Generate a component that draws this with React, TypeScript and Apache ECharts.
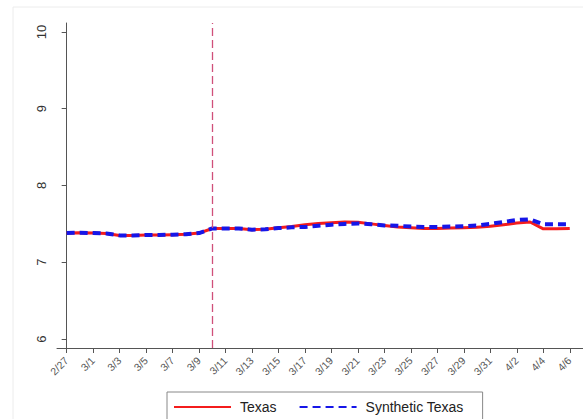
import React, { useEffect, useRef } from "react";
import * as echarts from "echarts";

const days: string[] = [
  "2/27", "2/28", "3/1", "3/2", "3/3", "3/4", "3/5", "3/6", "3/7", "3/8",
  "3/9", "3/10", "3/11", "3/12", "3/13", "3/14", "3/15", "3/16", "3/17", "3/18",
  "3/19", "3/20", "3/21", "3/22", "3/23", "3/24", "3/25", "3/26", "3/27", "3/28",
  "3/29", "3/30", "3/31", "4/1", "4/2", "4/3", "4/4", "4/5", "4/6",
];

const texas: number[] = [
  7.38, 7.385, 7.38, 7.375, 7.35, 7.35, 7.355, 7.355, 7.36, 7.365,
  7.38, 7.44, 7.44, 7.44, 7.425, 7.43, 7.45, 7.465, 7.49, 7.505,
  7.515, 7.525, 7.52, 7.5, 7.48, 7.46, 7.45, 7.44, 7.44, 7.445,
  7.45, 7.455, 7.47, 7.49, 7.51, 7.525, 7.435, 7.435, 7.44,
];

const synthetic: number[] = [
  7.38, 7.385, 7.38, 7.375, 7.35, 7.35, 7.355, 7.355, 7.36, 7.365,
  7.38, 7.44, 7.44, 7.44, 7.425, 7.43, 7.445, 7.455, 7.46, 7.475,
  7.49, 7.5, 7.505, 7.495, 7.48, 7.475, 7.465, 7.46, 7.46, 7.465,
  7.47, 7.48, 7.5, 7.525, 7.55, 7.56, 7.495, 7.495, 7.495,
];

const xTickIdx: number[] = [0, 2, 4, 6, 8, 10, 12, 14, 16, 18, 20, 22, 24, 26, 28, 30, 32, 34, 36, 38];
const yTicks: number[] = [6, 7, 8, 9, 10];
const policyDay = "3/10";

export default function App() {
  const ref = useRef<HTMLDivElement>(null);
  useEffect(() => {
    if (!ref.current) return;
    const chart = echarts.init(ref.current, null, { renderer: "svg" });
    const font = "'Liberation Sans', Arial, Helvetica, sans-serif";
    chart.setOption({
      animation: false,
      backgroundColor: "#ffffff",
      textStyle: { fontFamily: font },
      graphic: [
        {
          type: "rect",
          shape: { x: 13, y: 7, width: 640, height: 480 },
          style: { fill: "none", stroke: "#ececec", lineWidth: 1 },
          silent: true,
          z: -1,
        },
      ],
      grid: { left: 57, right: 0, top: 23, bottom: 71 },
      xAxis: {
        type: "value",
        min: -0.73,
        max: 39.0,
        splitLine: { show: false },
        axisLine: { show: true, lineStyle: { color: "#555", width: 1 } },
        axisTick: { show: true, length: 5, customValues: xTickIdx, lineStyle: { color: "#555" } },
        axisLabel: {
          customValues: xTickIdx,
          rotate: 45,
          fontSize: 10.5,
          color: "#555",
          margin: 11,
          overflow: "none",
          hideOverlap: false,
          fontFamily: font,
          formatter: (v: number) => days[Math.round(v)] ?? "",
        },
      },
      yAxis: {
        type: "value",
        min: 5.883,
        max: 10.117,
        splitLine: { show: false },
        axisLine: { show: true, lineStyle: { color: "#555", width: 1 } },
        axisTick: { show: true, length: 5, customValues: yTicks, lineStyle: { color: "#555" } },
        axisLabel: {
          customValues: yTicks,
          rotate: 90,
          fontSize: 13,
          color: "#333",
          margin: 9,
          fontFamily: font,
        },
      },
      legend: {
        left: 167,
        top: 392,
        orient: "horizontal",
        padding: [8, 19, 8, 6],
        borderColor: "#888",
        borderWidth: 1,
        itemWidth: 57,
        itemHeight: 10,
        itemGap: 22,
        itemStyle: { opacity: 0 },
        textStyle: { fontSize: 14, color: "#222", fontFamily: font, padding: [0, 0, 0, 4] },
        data: ["Texas", "Synthetic Texas"],
      },
      series: [
        {
          name: "Texas",
          type: "line",
          data: texas.map((v, i) => [i, v]),
          showSymbol: false,
          symbol: "none",
          lineStyle: { color: "#f41c1c", width: 3 },
          itemStyle: { color: "#f41c1c" },
          z: 2,
          markLine: {
            silent: true,
            symbol: ["none", "none"],
            label: { show: false },
            lineStyle: { color: "#d0507a", type: [8, 4], width: 1.3 },
            data: [{ xAxis: days.indexOf(policyDay) }],
          },
        },
        {
          name: "Synthetic Texas",
          type: "line",
          data: synthetic.map((v, i) => [i, v]),
          showSymbol: false,
          symbol: "none",
          lineStyle: { color: "#1616e8", width: 4, type: [8, 5] },
          itemStyle: { color: "#1616e8" },
          z: 3,
        },
      ],
    });
    return () => chart.dispose();
  }, []);
  return (
    <div
      ref={ref}
      style={{ position: "fixed", left: 0, top: 0, width: 583, height: 419, background: "#fff" }}
    />
  );
}
